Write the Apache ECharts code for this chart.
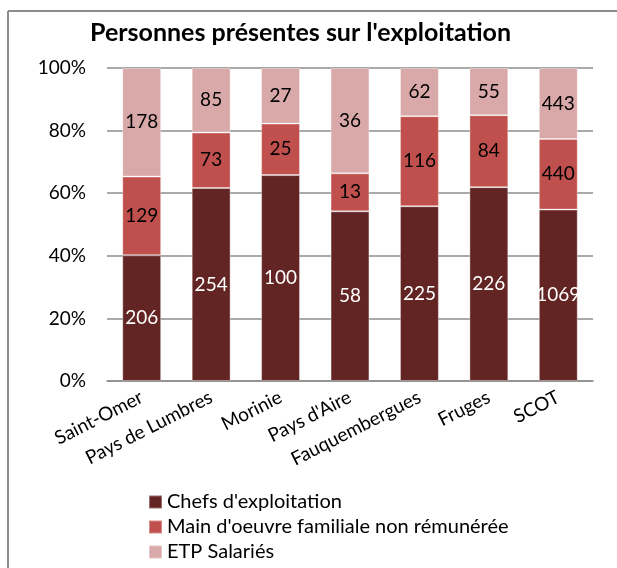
<!DOCTYPE html>
<html>
<head>
<meta charset="utf-8">
<script src="https://cdn.jsdelivr.net/npm/echarts@6/dist/echarts.min.js"></script>
<style>
  html, body { margin: 0; padding: 0; background: #fff; }
  #chart { width: 617px; height: 568px; }
</style>
</head>
<body>
<div id="chart"></div>
<script>
const categories = ['Saint-Omer', 'Pays de Lumbres', 'Morinie', "Pays d'Aire", 'Fauquembergues', 'Fruges', 'SCOT']
const chefs = [206, 254, 100, 58, 225, 226, 1069]
const mainOeuvre = [129, 73, 25, 13, 116, 84, 440]
const salaries = [178, 85, 27, 36, 62, 55, 443]
const yTicks = [0, 20, 40, 60, 80, 100]

// part de chaque série dans le total de la colonne
const totals = categories.map((c, i) => chefs[i] + mainOeuvre[i] + salaries[i])
const toPct = arr => arr.map((v, i) => ({ value: v / totals[i] * 100, raw: v }))

const font = 'Lato'
const makeSeries = (name, data, color, labelColor) => ({
  name: name,
  type: 'bar',
  stack: 'total',
  barCategoryGap: '44%',
  data: toPct(data),
  itemStyle: { color: color, borderColor: 'rgba(255,255,255,0.35)', borderWidth: 1 },
  label: {
    show: true,
    position: 'inside',
    color: labelColor,
    fontFamily: font,
    fontSize: 19,
    formatter: p => p.data.raw
  }
})

let myChart = echarts.init(document.getElementById('chart'))
let option = {
  backgroundColor: '#fff',
  animation: false,
  title: {
    text: "Personnes présentes sur l'exploitation",
    left: 90,
    top: 20,
    padding: 0,
    textStyle: { fontFamily: font, fontSize: 25, fontWeight: 'bold', color: '#000' }
  },
  // cadre du graphique (seuls les bords gauche et haut sont visibles)
  graphic: [
    {
      type: 'line',
      shape: { x1: 8, y1: 11, x2: 617, y2: 11 },
      style: { stroke: '#8c8c8c', lineWidth: 2 },
      silent: true
    },
    {
      type: 'line',
      shape: { x1: 8, y1: 11, x2: 8, y2: 568 },
      style: { stroke: '#8c8c8c', lineWidth: 2 },
      silent: true
    }
  ],
  legend: {
    orient: 'vertical',
    left: 148,
    top: 492,
    padding: 0,
    itemWidth: 13,
    itemHeight: 13,
    itemGap: 5,
    icon: 'rect',
    textStyle: { fontFamily: font, fontSize: 20, color: '#000' },
    data: ["Chefs d'exploitation", "Main d'oeuvre familiale non rémunérée", 'ETP Salariés']
  },
  grid: {
    left: 107,
    right: 24,
    top: 68,
    bottom: 187
  },
  xAxis: {
    type: 'category',
    data: categories,
    axisLine: { lineStyle: { color: '#8c8c8c', width: 1.5 } },
    axisTick: { show: false },
    axisLabel: {
      rotate: 27,
      interval: 0,
      margin: 15,
      color: '#000',
      fontFamily: font,
      fontSize: 19
    }
  },
  yAxis: {
    type: 'value',
    min: yTicks[0],
    max: yTicks[yTicks.length - 1],
    interval: 20,
    axisLine: { show: false },
    axisTick: { show: false },
    axisLabel: {
      formatter: '{value}%',
      color: '#000',
      margin: 21,
      fontFamily: font,
      fontSize: 19
    },
    splitLine: { lineStyle: { color: '#8c8c8c', width: 1.5 } }
  },
  series: [
    makeSeries("Chefs d'exploitation", chefs, '#632523', '#fff'),
    makeSeries("Main d'oeuvre familiale non rémunérée", mainOeuvre, '#C0504D', '#000'),
    makeSeries('ETP Salariés', salaries, '#D9A8A8', '#000')
  ]
}
myChart.setOption(option)
</script>
</body>
</html>
